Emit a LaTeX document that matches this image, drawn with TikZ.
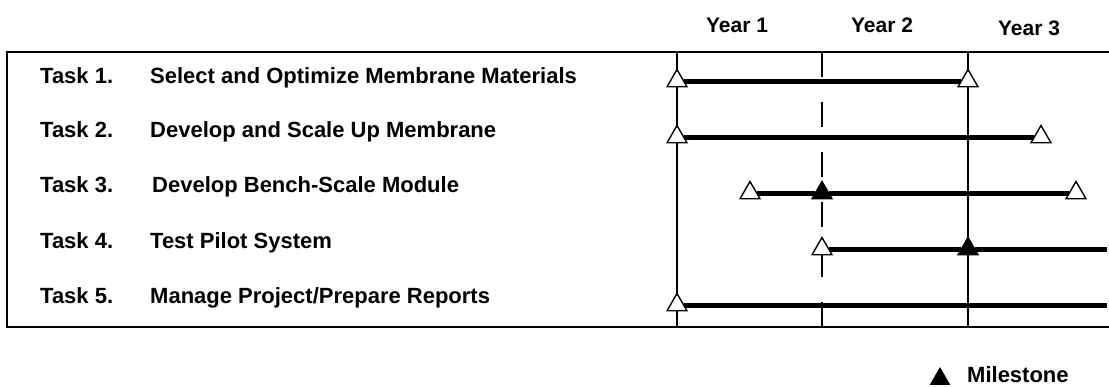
\documentclass[tikz,border=0pt]{standalone}
\usepackage{fontspec}
\setmainfont{Liberation Sans}
\usetikzlibrary{shapes.geometric}
\begin{document}
\begin{tikzpicture}[x=1pt,y=-1pt,
  every node/.style={font=\fontsize{22}{26}\selectfont\bfseries,inner sep=0pt},
  year/.style={anchor=base,font=\fontsize{21}{25}\selectfont\bfseries},
  open/.style={regular polygon,regular polygon sides=3,draw,fill=white,line width=1.4pt,minimum size=23pt},
  done/.style={open,fill=black},
  bar/.style={line width=5pt},
  rule/.style={line width=1.5pt}]
 \useasboundingbox (0,0) rectangle (1109,386);
 \draw [rule] (1115,52) -- (7,52) -- (7,327) -- (1115,327);
 \draw [rule] (677,52) -- (677,327);
 \draw [rule] (968,52) -- (968,327);
 \draw [rule,dash pattern=on 25pt off 25pt] (822,52) -- (822,327);
 \node [year] (y1) at (737,32) {Year 1};
 \node [year] (y2) at (882,32) {Year 2};
 \node [year] (y3) at (1029,35) {Year 3};
 \node [anchor=base west] (t1) at (40,83) {Task 1.};
 \node [anchor=base west] (t2) at (40,137) {Task 2.};
 \node [anchor=base west] (t3) at (40,192) {Task 3.};
 \node [anchor=base west] (t4) at (40,248) {Task 4.};
 \node [anchor=base west] (t5) at (40,303) {Task 5.};
 \node [anchor=base west] (d1) at (150,83) {Select and Optimize Membrane Materials};
 \node [anchor=base west] (d2) at (150,137) {Develop and Scale Up Membrane};
 \node [anchor=base west] (d3) at (152,192) {Develop Bench-Scale Module};
 \node [anchor=base west] (d4) at (150,248) {Test Pilot System};
 \node [anchor=base west] (d5) at (150,303) {Manage Project/Prepare Reports};
 % bars
 \node [open] (s1) at (677,81) {};
 \node [open] (e1) at (968,81) {};
 \node [open] (s2) at (677,137) {};
 \node [open] (e2) at (1041,137) {};
 \node [open] (s3) at (750,193) {};
 \node [done] (m3) at (822,193) {};
 \node [open] (e3) at (1076,193) {};
 \node [open] (s4) at (822,249) {};
 \node [done] (m4) at (968,249) {};
 \coordinate (e4) at (1107,249);
 \node [open] (s5) at (677,305) {};
 \coordinate (e5) at (1107,305);
 \draw [bar] (s1) -- (e1);
 \draw [bar] (s2) -- (e2);
 \draw [bar] (s3) -- (m3) -- (e3);
 \draw [bar] (s4) -- (m4) -- (e4);
 \draw [bar] (s5) -- (e5);
 % key
 \node [done,minimum size=21pt] (key) at (940,379) {};
 \node [anchor=base west] (ms) at (967,382) {Milestone};
\end{tikzpicture}
\end{document}
